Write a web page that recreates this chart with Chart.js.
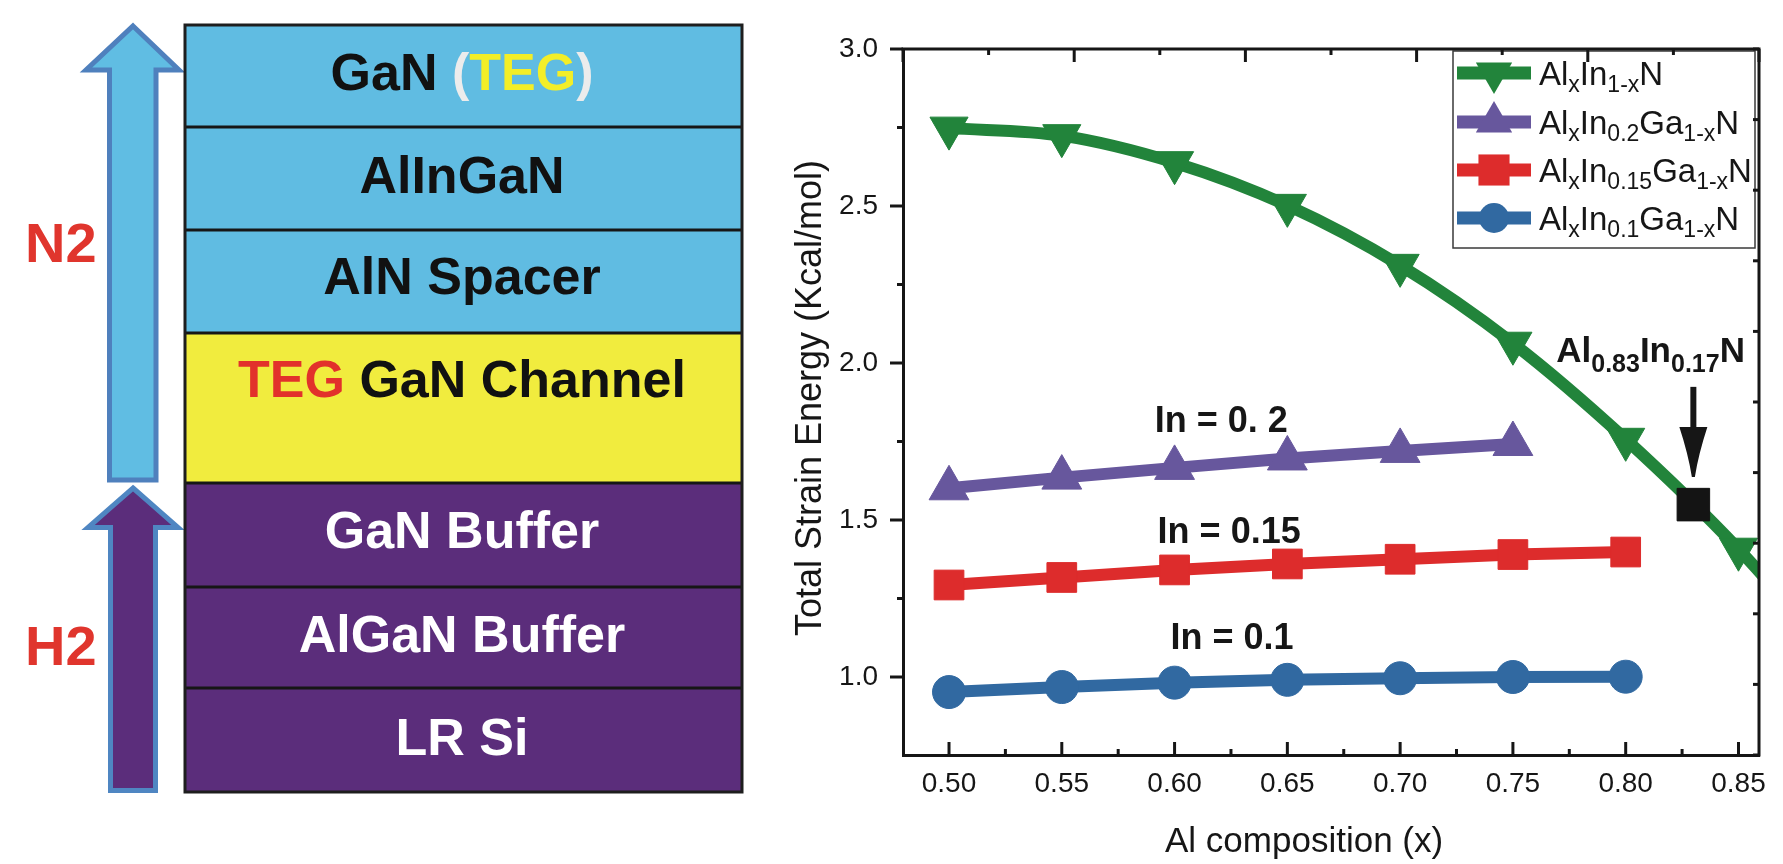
<!DOCTYPE html>
<html>
<head>
<meta charset="utf-8">
<script src="https://cdn.jsdelivr.net/npm/chart.js@4.4.1/dist/chart.umd.min.js"></script>
<style>
  html, body { margin:0; padding:0; background:#ffffff; width:1783px; height:864px; overflow:hidden; }
  #diagram { position:absolute; left:0; top:0; }
  #chartWrap { position:absolute; left:760px; top:0; width:1023px; height:864px; }
  #chart { display:block; width:1023px; height:864px; }
  .lt { font-family:'Liberation Sans', Arial, Helvetica, sans-serif; font-weight:bold; font-size:52px; }
</style>
</head>
<body>
<svg id="diagram" width="760" height="864" xmlns="http://www.w3.org/2000/svg">
  <!-- growth arrows -->
  <polygon points="133,26 179,70 156,70 156,480 109.5,480 109.5,70 86,70" fill="#60bde3" stroke="#4f80bd" stroke-width="5" stroke-linejoin="miter"/>
  <polygon points="133,488 178,527.5 155.5,527.5 155.5,790.5 110.5,790.5 110.5,527.5 88,527.5" fill="#5b2d7b" stroke="#4f86c2" stroke-width="5" stroke-linejoin="miter"/>
  <text x="25" y="262" class="lt" style="font-size:56px" fill="#e0352d">N2</text>
  <text x="25" y="665" class="lt" style="font-size:56px" fill="#e0352d">H2</text>
  <!-- layer stack -->
  <rect x="185" y="25" width="557" height="102" fill="#60bce2"/>
  <rect x="185" y="127" width="557" height="103" fill="#60bce2"/>
  <rect x="185" y="230" width="557" height="103" fill="#60bce2"/>
  <rect x="185" y="333" width="557" height="150" fill="#f1ec3e"/>
  <rect x="185" y="483" width="557" height="104" fill="#5b2d7b"/>
  <rect x="185" y="587" width="557" height="101" fill="#5b2d7b"/>
  <rect x="185" y="688" width="557" height="104" fill="#5b2d7b"/>
  <g stroke="#161616" stroke-width="3">
    <line x1="185" y1="127" x2="742" y2="127"/>
    <line x1="185" y1="230" x2="742" y2="230"/>
    <line x1="185" y1="333" x2="742" y2="333"/>
    <line x1="185" y1="483" x2="742" y2="483"/>
    <line x1="185" y1="587" x2="742" y2="587"/>
    <line x1="185" y1="688" x2="742" y2="688"/>
  </g>
  <rect x="185" y="25" width="557" height="767" fill="none" stroke="#1e1e1e" stroke-width="3"/>
  <g class="lt" text-anchor="middle">
    <text x="462" y="90" fill="#111">GaN <tspan fill="#ececec">(</tspan><tspan fill="#f3ee28">TEG</tspan><tspan fill="#ececec">)</tspan></text>
    <text x="462" y="193" fill="#111">AlInGaN</text>
    <text x="462" y="294" fill="#111">AlN Spacer</text>
    <text x="462" y="397" fill="#111"><tspan fill="#e2312b">TEG</tspan> GaN Channel</text>
    <text x="462" y="548" fill="#ffffff">GaN Buffer</text>
    <text x="462" y="652" fill="#ffffff">AlGaN Buffer</text>
    <text x="462" y="755" fill="#ffffff">LR Si</text>
  </g>
</svg>
<div id="chartWrap"><canvas id="chart" width="1023" height="864"></canvas></div>
<script>
// ---------------- data ----------------
const xValues   = [0.50, 0.55, 0.60, 0.65, 0.70, 0.75, 0.80, 0.85, 0.90];
const alInN     = [2.748, 2.724, 2.638, 2.502, 2.311, 2.063, 1.757, 1.407, 1.00];
const alInGa020 = [1.601, 1.635, 1.666, 1.696, 1.720, 1.742];
const alInGa015 = [1.293, 1.317, 1.341, 1.360, 1.375, 1.390, 1.398];
const alInGa010 = [0.952, 0.968, 0.982, 0.991, 0.996, 1.000, 1.001];
const markedX   = [0.83];
const markedY   = [1.549];
const seriesLabels = ['Al_{x}In_{1-x}N', 'Al_{x}In_{0.2}Ga_{1-x}N', 'Al_{x}In_{0.15}Ga_{1-x}N', 'Al_{x}In_{0.1}Ga_{1-x}N'];
const xTickValues      = [0.50, 0.55, 0.60, 0.65, 0.70, 0.75, 0.80, 0.85];
const xMinorTickValues = [0.525, 0.575, 0.625, 0.675, 0.725, 0.775, 0.825];
const yTickValues      = [1.0, 1.5, 2.0, 2.5, 3.0];
const yMinorTickValues = [1.25, 1.75, 2.25, 2.75];
const topTickValues    = [0, 1, 2, 3, 4, 5, 6, 7, 8, 9, 10];
const rightTickValues  = [0, 1, 2, 3, 4, 5, 6, 7, 8, 9, 10];
const annotationTexts  = ['In = 0. 2', 'In = 0.15', 'In = 0.1'];
const pointLabel       = 'Al_{0.83}In_{0.17}N';
const xTitle = 'Al composition (x)';
const yTitle = 'Total Strain Energy (Kcal/mol)';

// ---------------- helpers ----------------
const FONT = "'Liberation Sans', Arial, Helvetica, sans-serif";
const INK = '#161616';
Chart.defaults.font.family = FONT;
Chart.defaults.color = INK;

const pts = (ys) => ys.map((v, i) => ({ x: xValues[i], y: v }));

function parseRich(s) {
  const parts = []; const re = /_\{([^}]*)\}/g; let last = 0, m;
  while ((m = re.exec(s))) {
    if (m.index > last) parts.push({ t: s.slice(last, m.index), sub: false });
    parts.push({ t: m[1], sub: true }); last = re.lastIndex;
  }
  if (last < s.length) parts.push({ t: s.slice(last), sub: false });
  return parts;
}
function drawRich(ctx, s, x, y, mainFont, subFont, subDy) {
  let cx = x;
  ctx.textAlign = 'left'; ctx.textBaseline = 'alphabetic';
  for (const p of parseRich(s)) {
    ctx.font = p.sub ? subFont : mainFont;
    ctx.fillText(p.t, cx, p.sub ? y + subDy : y);
    cx += ctx.measureText(p.t).width;
  }
}
function marker(ctx, style, x, y, r, rot) {
  ctx.beginPath();
  if (style === 'circle') ctx.arc(x, y, r, 0, Math.PI * 2);
  else if (style === 'rect') { const s = r * Math.SQRT1_2; ctx.rect(x - s, y - s, 2 * s, 2 * s); }
  else {
    let rad = (rot || 0) * Math.PI / 180;
    for (let k = 0; k < 3; k++) {
      const px = x + Math.sin(rad) * r, py = y - Math.cos(rad) * r;
      if (k) ctx.lineTo(px, py); else ctx.moveTo(px, py);
      rad += 2 * Math.PI / 3;
    }
    ctx.closePath();
  }
  ctx.fill();
}

// ---------------- plugins ----------------
const annotPlugin = {
  id: 'annot',
  afterDatasetsDraw(chart, args, o) {
    const { ctx, chartArea: a, scales: { x, y } } = chart;
    ctx.save();
    ctx.fillStyle = INK;
    // composition labels
    ctx.font = `bold 36px ${FONT}`; ctx.textAlign = 'center'; ctx.textBaseline = 'alphabetic';
    annotationTexts.forEach((t, i) => ctx.fillText(t, x.getPixelForValue(o.textX[i]), y.getPixelForValue(o.textY[i])));
    // Al0.83In0.17N label
    drawRich(ctx, pointLabel, x.getPixelForValue(o.labelX), y.getPixelForValue(o.labelY), `bold 35px ${FONT}`, `bold 25px ${FONT}`, 10);
    // arrow
    const ax = x.getPixelForValue(markedX[0]);
    const y0 = y.getPixelForValue(o.arrowFrom), y1 = y.getPixelForValue(o.arrowTo);
    const hb = y1 - o.headLen;
    ctx.fillRect(ax - 3, y0, 6, hb - y0 + 2);
    ctx.beginPath();
    ctx.moveTo(ax - 14, hb);
    ctx.lineTo(ax + 14, hb);
    ctx.quadraticCurveTo(ax + 5, hb + o.headLen * 0.55, ax + 1.5, y1);
    ctx.lineTo(ax - 1.5, y1);
    ctx.quadraticCurveTo(ax - 5, hb + o.headLen * 0.55, ax - 14, hb);
    ctx.closePath(); ctx.fill();
    // legend
    const L = o.legend;
    const bx0 = a.right - L.right - L.width, by0 = a.top + L.top;
    ctx.strokeStyle = '#3a3a3a'; ctx.lineWidth = 1.5;
    ctx.strokeRect(bx0, by0, L.width, L.height);
    chart.data.datasets.slice(0, 4).forEach((ds, i) => {
      const cy = a.top + L.rows[i];
      const lx0 = bx0 + L.lineStart, lx1 = lx0 + L.lineLen;
      ctx.strokeStyle = ds.borderColor; ctx.lineWidth = L.lineWidth; ctx.lineCap = 'butt';
      ctx.beginPath(); ctx.moveTo(lx0, cy); ctx.lineTo(lx1, cy); ctx.stroke();
      ctx.fillStyle = ds.backgroundColor;
      marker(ctx, ds.pointStyle, (lx0 + lx1) / 2, cy, L.radius[i], ds.rotation);
      ctx.fillStyle = INK;
      drawRich(ctx, ds.label, bx0 + L.textStart, cy + 12, `33px ${FONT}`, `23px ${FONT}`, 7);
    });
    ctx.restore();
  }
};

const framePlugin = {
  id: 'frameTicks',
  afterDraw(chart, args, o) {
    const { ctx, chartArea: a, scales } = chart;
    const x = scales.x, y = scales.y, xt = scales.xTop, yr = scales.yRight;
    const topPx = (v) => { const p = xt ? xt.getPixelForValue(v) : NaN; return isFinite(p) ? p : a.left + (a.right - a.left) * v / 10; };
    const rightPx = (v) => { const p = yr ? yr.getPixelForValue(v) : NaN; return isFinite(p) ? p : a.bottom - (a.bottom - a.top) * v / 10; };
    ctx.save();
    ctx.strokeStyle = INK; ctx.lineWidth = o.width; ctx.lineCap = 'butt';
    const seg = (x1, y1, x2, y2) => { ctx.beginPath(); ctx.moveTo(x1, y1); ctx.lineTo(x2, y2); ctx.stroke(); };
    ctx.beginPath(); ctx.moveTo(a.left - 1.5, a.top); ctx.lineTo(a.right, a.top); ctx.lineTo(a.right, a.bottom + 1.5); ctx.stroke();
    xTickValues.forEach(v => { const p = x.getPixelForValue(v); seg(p, a.bottom, p, a.bottom - o.major); });
    xMinorTickValues.forEach(v => { const p = x.getPixelForValue(v); seg(p, a.bottom, p, a.bottom - o.minor); });
    yTickValues.forEach(v => { const p = y.getPixelForValue(v); seg(a.left, p, a.left - o.major, p); });
    yMinorTickValues.forEach(v => { const p = y.getPixelForValue(v); seg(a.left, p, a.left - o.minor, p); });
    topTickValues.forEach(v => { const p = topPx(v); seg(p, a.top, p, a.top + (v % 2 === 0 ? o.major : o.minor)); });
    rightTickValues.forEach(v => { const p = rightPx(v); seg(a.right, p, a.right - o.minor, p); });
    // axis titles
    ctx.fillStyle = INK;
    ctx.font = `35px ${FONT}`; ctx.textAlign = 'left'; ctx.textBaseline = 'alphabetic';
    ctx.fillText(xTitle, a.left + o.xTitleDx, a.bottom + o.xTitleDy);
    ctx.save();
    ctx.translate(a.left - o.yTitleDx, (a.top + a.bottom) / 2 - 4);
    ctx.rotate(-Math.PI / 2);
    ctx.font = `36px ${FONT}`; ctx.textAlign = 'center'; ctx.textBaseline = 'middle';
    ctx.fillText(yTitle, 0, 0);
    ctx.restore();
    ctx.restore();
  }
};

// ---------------- chart ----------------
const GREEN = '#22843b', PURPLE = '#67579d', RED = '#dd2c2c', BLUE = '#3169a1', BLACK = '#141414';
const tickFont = { size: 28, family: FONT };

new Chart(document.getElementById('chart'), {
  type: 'line',
  data: {
    datasets: [
      { label: seriesLabels[0], data: pts(alInN), borderColor: GREEN, backgroundColor: GREEN, borderWidth: 12,
        pointStyle: 'triangle', rotation: 180, pointRadius: 22, pointHoverRadius: 22, pointBorderWidth: 1,
        cubicInterpolationMode: 'monotone', capBezierPoints: false, clip: 0, order: 4 },
      { label: seriesLabels[1], data: pts(alInGa020), borderColor: PURPLE, backgroundColor: PURPLE, borderWidth: 12,
        pointStyle: 'triangle', rotation: 0, pointRadius: 23, pointHoverRadius: 23, pointBorderWidth: 1, tension: 0, order: 3 },
      { label: seriesLabels[2], data: pts(alInGa015), borderColor: RED, backgroundColor: RED, borderWidth: 12,
        pointStyle: 'rect', pointRadius: 21, pointHoverRadius: 21, pointBorderWidth: 1, tension: 0, order: 2 },
      { label: seriesLabels[3], data: pts(alInGa010), borderColor: BLUE, backgroundColor: BLUE, borderWidth: 12,
        pointStyle: 'circle', pointRadius: 16.5, pointHoverRadius: 16.5, pointBorderWidth: 1, tension: 0, order: 1 },
      { label: 'Al0.83In0.17N', data: markedX.map((v, i) => ({ x: v, y: markedY[i] })), showLine: false,
        borderColor: BLACK, backgroundColor: BLACK, pointStyle: 'rect', pointRadius: 23, pointHoverRadius: 23, pointBorderWidth: 1, order: 0 }
    ]
  },
  options: {
    responsive: false,
    maintainAspectRatio: false,
    animation: false,
    devicePixelRatio: 1,
    events: [],
    layout: { padding: { left: 0, top: 49, right: 6, bottom: 0 } },
    plugins: {
      legend: { display: false },
      tooltip: { enabled: false },
      annot: {
        textX: [0.6207, 0.6242, 0.6255],
        textY: [1.780, 1.427, 1.088],
        labelX: 0.7692, labelY: 2.003,
        arrowFrom: 1.924, arrowTo: 1.637, headLen: 50,
        legend: { right: 4, top: 2, width: 302, height: 197, rows: [24, 73, 121, 169],
                  lineStart: 4, lineLen: 74, lineWidth: 13, textStart: 86, radius: [21, 21, 22, 15] }
      },
      frameTicks: { width: 3, major: 13, minor: 6, xTitleDx: 262, xTitleDy: 97, yTitleDx: 92 }
    },
    scales: {
      x: {
        type: 'linear', position: 'bottom', min: 0.4796, max: 0.8591,
        afterBuildTicks: (s) => { s.ticks = xTickValues.map(v => ({ value: v })); },
        afterFit: (s) => { s.height = 109; s.paddingLeft = 0; s.paddingRight = 0; },
        ticks: { autoSkip: false, maxRotation: 0, minRotation: 0, padding: 12, color: INK, font: tickFont,
                 callback: (v) => Number(v).toFixed(2) },
        grid: { display: false, drawTicks: false },
        border: { display: true, width: 3, color: INK }
      },
      y: {
        type: 'linear', position: 'left', min: 0.7516, max: 3.0,
        afterBuildTicks: (s) => { s.ticks = yTickValues.map(v => ({ value: v })); },
        afterFit: (s) => { s.width = 143; s.paddingTop = 0; s.paddingBottom = 0; },
        ticks: { autoSkip: false, padding: 25, color: INK, font: tickFont,
                 callback: (v) => Number(v).toFixed(1) },
        grid: { display: false, drawTicks: false },
        border: { display: true, width: 3, color: INK }
      },
      xTop: { type: 'linear', position: 'top', display: false, min: 0, max: 10 },
      yRight: { type: 'linear', position: 'right', display: false, min: 0, max: 10 }
    }
  },
  plugins: [annotPlugin, framePlugin]
});
</script>
</body>
</html>
